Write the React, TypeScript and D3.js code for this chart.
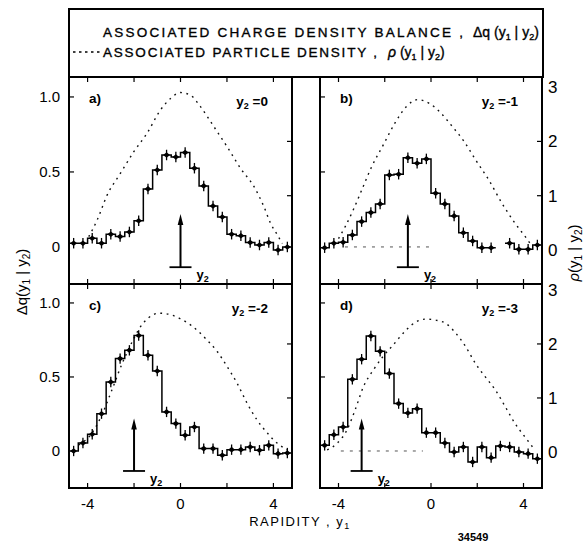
import React from "react";
import * as d3 from "d3";

const W = 588;
const H = 548;

// histogram bins: 24 bins of width 0.4 from -4.8 to 4.8
const BIN_LO = -4.8;
const BIN_W = 0.4;
const ERR = 0.035;

const dqA = [0.025, 0.025, 0.058, 0.025, 0.085, 0.069, 0.10, 0.175, 0.387, 0.513, 0.613, 0.60, 0.63, 0.525, 0.407, 0.273, 0.20, 0.085, 0.075, 0.03, 0.013, 0.03, -0.02, 0.0];
const dqB = [-0.005, 0.025, 0.031, 0.08, 0.169, 0.229, 0.287, 0.48, 0.485, 0.595, 0.558, 0.587, 0.358, 0.287, 0.207, 0.095, 0.04, -0.005, -0.005, null, 0.025, -0.016, -0.016, 0.013];
const dqC = [0.0, 0.054, 0.113, 0.252, 0.466, 0.624, 0.68, 0.78, 0.647, 0.54, 0.264, 0.185, 0.106, 0.162, 0.016, 0.016, -0.029, 0.009, 0.009, 0.027, 0.005, 0.038, -0.018, -0.014];
const dqD = [0.038, 0.11, 0.162, 0.484, 0.62, 0.777, 0.673, 0.523, 0.32, 0.257, 0.286, 0.124, 0.124, 0.054, -0.007, 0.027, -0.074, 0.027, -0.045, 0.034, 0.027, -0.007, -0.018, -0.052];

// associated particle density rho(y1|y2), read as (y1, rho) pairs
const rhoAx = [-3.95, -3.59, -3.16, -2.59, -2.01, -1.44, -0.86, -0.43, 0, 0.43, 0.86, 1.44, 2.01, 2.59, 3.16, 3.59, 3.88, 4.17, 4.38];
const rhoAy = [0.245, 0.55, 1.01, 1.41, 1.81, 2.15, 2.58, 2.79, 2.90, 2.85, 2.64, 2.27, 1.90, 1.50, 1.17, 0.80, 0.49, 0.28, 0.12];
const rhoBx = [-4.0, -3.71, -3.36, -3.0, -2.57, -2.07, -1.57, -1.07, -0.57, -0.07, 0.43, 0.93, 1.43, 1.93, 2.5, 3.07, 3.64, 4.07, 4.29];
const rhoBy = [0.21, 0.43, 0.74, 1.10, 1.53, 1.93, 2.33, 2.64, 2.77, 2.70, 2.52, 2.27, 2.0, 1.66, 1.29, 0.86, 0.49, 0.25, 0.12];
const rhoCx = [-4.38, -3.81, -3.38, -2.95, -2.51, -2.08, -1.72, -1.36, -0.93, -0.50, -0.07, 0.5, 1.08, 1.58, 2.01, 2.44, 2.87, 3.30, 3.74, 4.17, 4.6];
const rhoCy = [0.13, 0.35, 0.69, 1.15, 1.64, 2.04, 2.32, 2.49, 2.57, 2.55, 2.48, 2.33, 2.1, 1.86, 1.58, 1.27, 0.90, 0.59, 0.35, 0.16, 0.04];
const rhoDx = [-4.49, -4.06, -3.63, -3.28, -2.92, -2.49, -2.07, -1.64, -1.07, -0.64, -0.21, 0.21, 0.64, 1.07, 1.50, 1.92, 2.35, 2.78, 3.21, 3.63, 4.06, 4.49];
const rhoDy = [0.04, 0.16, 0.41, 0.78, 1.21, 1.52, 1.77, 1.98, 2.26, 2.41, 2.46, 2.44, 2.38, 2.20, 1.95, 1.64, 1.39, 1.15, 0.84, 0.53, 0.28, 0.04];

const y2Values = [0, -1, -2, -3];
const panelLetters = ["a)", "b)", "c)", "d)"];
const xTicks = [-4, -2, 0, 2, 4];
const xTickLabels = [-4, 0, 4];
const dqTicks = [0, 0.5, 1.0];
const dqTickLabels = ["0", "0.5", "1.0"];
const rhoTicks = [0, 1, 2, 3];

const FONT = "'Liberation Sans', Arial, sans-serif";

const cols = [
  { x0: 69, x1: 292 },
  { x0: 320, x1: 542 },
];
const rows = [
  { y0: 77, y1: 284, dq: [-0.247, 1.133], rho: [-0.626, 3.186] },
  { y0: 284, y1: 488, dq: [-0.25, 1.128], rho: [-0.667, 3.11] },
];

const panels = [
  { i: 0, col: 0, row: 0, dq: dqA, rx: rhoAx, ry: rhoAy, zeroSeg: null },
  { i: 1, col: 1, row: 0, dq: dqB, rx: rhoBx, ry: rhoBy, zeroSeg: [-3.72, 0.1] },
  { i: 2, col: 0, row: 1, dq: dqC, rx: rhoCx, ry: rhoCy, zeroSeg: null },
  { i: 3, col: 1, row: 1, dq: dqD, rx: rhoDx, ry: rhoDy, zeroSeg: [-3.9, -0.35] },
];

function Panel({ p }: { p: any }) {
  const c = cols[p.col];
  const r = rows[p.row];
  const x = d3.scaleLinear().domain([-4.8, 4.8]).range([c.x0, c.x1]);
  const y = d3.scaleLinear().domain(r.dq).range([r.y1, r.y0]);
  const ry = d3.scaleLinear().domain(r.rho).range([r.y1, r.y0]);
  const y2 = y2Values[p.i];
  const clipId = `clip${p.i}`;

  let hist = "";
  let open = false;
  (p.dq as (number | null)[]).forEach((v, i) => {
    if (v == null) {
      open = false;
      return;
    }
    const xa = x(BIN_LO + i * BIN_W);
    const xb = x(BIN_LO + (i + 1) * BIN_W);
    const yy = y(v);
    hist += (open ? "L" : "M") + xa + "," + yy + "L" + xb + "," + yy;
    open = true;
  });

  const rhoPts: [number, number][] = p.rx.map((v: number, k: number) => [v, p.ry[k]]);
  const rhoLine = d3
    .line<[number, number]>()
    .x((d) => x(d[0]))
    .y((d) => ry(d[1]))
    .curve(d3.curveMonotoneX)(rhoPts) as string;

  const ax = x(y2);
  const barY = y(-0.135);
  const tipY = y(0.22);

  return (
    <g>
      <defs>
        <clipPath id={clipId}>
          <rect x={c.x0} y={r.y0} width={c.x1 - c.x0} height={r.y1 - r.y0} />
        </clipPath>
      </defs>
      <g clipPath={`url(#${clipId})`}>
        {p.zeroSeg && (
          <line
            x1={x(p.zeroSeg[0])}
            x2={x(p.zeroSeg[1])}
            y1={y(0)}
            y2={y(0)}
            stroke="#555"
            strokeWidth={1}
            strokeDasharray="3 6"
          />
        )}
        <path d={rhoLine} fill="none" stroke="#111" strokeWidth={1.4} strokeDasharray="1.8 4.6" />
        <path d={hist} fill="none" stroke="#000" strokeWidth={1.5} />
        {(p.dq as (number | null)[]).map((v, i) =>
          v == null ? null : (
            <g key={i}>
              <line
                x1={x(BIN_LO + (i + 0.5) * BIN_W)}
                x2={x(BIN_LO + (i + 0.5) * BIN_W)}
                y1={y(v - ERR)}
                y2={y(v + ERR)}
                stroke="#000"
                strokeWidth={1.3}
              />
              <path
                d={`M${x(BIN_LO + (i + 0.5) * BIN_W) - 3.4},${y(v)}L${x(BIN_LO + (i + 0.5) * BIN_W)},${y(v) - 2.8}L${x(BIN_LO + (i + 0.5) * BIN_W) + 3.4},${y(v)}L${x(BIN_LO + (i + 0.5) * BIN_W)},${y(v) + 2.8}Z`}
                fill="#000"
              />
            </g>
          )
        )}
        {/* y2 arrow */}
        <line x1={ax - 11} x2={ax + 11} y1={barY} y2={barY} stroke="#000" strokeWidth={1.8} />
        <line x1={ax} x2={ax} y1={barY} y2={tipY + 6} stroke="#000" strokeWidth={2} />
        <path d={`M${ax - 2.8},${tipY + 11}L${ax},${tipY}L${ax + 2.8},${tipY + 11}Z`} fill="#000" />
      </g>
      <text x={ax + 16} y={barY + 12} fontSize={13} fontWeight="bold" fontFamily={FONT}>
        y<tspan fontSize={9} dy={3}>2</tspan>
      </text>
      {/* frame */}
      <rect x={c.x0} y={r.y0} width={c.x1 - c.x0} height={r.y1 - r.y0} fill="none" stroke="#000" strokeWidth={2} />
      {xTicks.map((t) => (
        <g key={t}>
          <line x1={x(t)} x2={x(t)} y1={r.y0} y2={r.y0 + 5} stroke="#000" strokeWidth={1.2} />
          <line x1={x(t)} x2={x(t)} y1={r.y1} y2={r.y1 - 5} stroke="#000" strokeWidth={1.2} />
        </g>
      ))}
      {[0.5, 1.0].map((t) => (
        <line key={t} x1={c.x0} x2={c.x0 + 5} y1={y(t)} y2={y(t)} stroke="#000" strokeWidth={1.2} />
      ))}
      {[1, 2].map((t) => (
        <line key={t} x1={c.x1} x2={c.x1 - 5} y1={ry(t)} y2={ry(t)} stroke="#000" strokeWidth={1.2} />
      ))}
      {/* panel letter */}
      <text x={c.x0 + 20} y={r.y0 + 26} fontSize={13.5} fontWeight="bold" fontFamily={FONT}>
        {panelLetters[p.i]}
      </text>
      {/* y2 value */}
      <text x={c.x1 - 24} y={r.y0 + 29} fontSize={13.5} fontWeight="bold" fontFamily={FONT} textAnchor="end">
        y<tspan fontSize={9} dy={3}>2</tspan>
        <tspan dy={-3}>{" =" + (y2 === 0 ? "0" : String(y2))}</tspan>
      </text>
      {/* axis labels */}
      {p.col === 0 &&
        dqTicks.map((t, k) => (
          <text
            key={t}
            x={c.x0 - 9}
            y={y(t) + 5.5}
            fontSize={15}
            fontFamily={FONT}
            textAnchor="end"
          >
            {dqTickLabels[k]}
          </text>
        ))}
      {p.col === 1 &&
        rhoTicks.map((t) => (
          <text key={t} x={c.x1 + 6} y={ry(t) + 6} fontSize={17} fontFamily={FONT}>
            {t}
          </text>
        ))}
      {p.row === 1 &&
        xTickLabels.map((t) => (
          <text key={t} x={x(t)} y={509} fontSize={15} fontFamily={FONT} textAnchor="middle">
            {t < 0 ? "-" + Math.abs(t) : String(t)}
          </text>
        ))}
    </g>
  );
}

export default function App() {
  const legendText = { fontFamily: FONT, stroke: "#000", strokeWidth: 0.35 };
  return (
    <svg
      width={W}
      height={H}
      viewBox={`0 0 ${W} ${H}`}
      style={{ position: "absolute", left: 0, top: 0, background: "#fff" }}
    >
      <rect x={0} y={0} width={W} height={H} fill="#fff" />
      {/* legend box */}
      <rect x={69} y={9} width={474} height={68} fill="none" stroke="#000" strokeWidth={2} />
      <text x={103} y={37} fontSize={13.5} {...legendText} textLength={360} lengthAdjust="spacing">
        ASSOCIATED CHARGE DENSITY BALANCE ,
      </text>
      <text x={473} y={37} fontSize={14} {...legendText}>
        Δq (y<tspan fontSize={9} dy={3}>1</tspan>
        <tspan dy={-3}> | y</tspan>
        <tspan fontSize={9} dy={3}>2</tspan>
        <tspan dy={-3}>)</tspan>
      </text>
      <line x1={73} x2={101} y1={52} y2={52} stroke="#000" strokeWidth={1.5} strokeDasharray="2.5 3.5" />
      <text x={103} y={57} fontSize={13.5} {...legendText} textLength={274} lengthAdjust="spacing">
        ASSOCIATED PARTICLE DENSITY ,
      </text>
      <text x={388} y={57} fontSize={14} {...legendText}>
        <tspan fontStyle="italic">ρ</tspan> (y<tspan fontSize={9} dy={3}>1</tspan>
        <tspan dy={-3}> | y</tspan>
        <tspan fontSize={9} dy={3}>2</tspan>
        <tspan dy={-3}>)</tspan>
      </text>

      {panels.map((p) => (
        <Panel key={p.i} p={p} />
      ))}

      {/* axis titles */}
      <text transform="translate(27,282) rotate(-90)" fontSize={15} fontFamily={FONT} textAnchor="middle">
        Δq(y<tspan fontSize={10} dy={3}>1</tspan>
        <tspan dy={-3}> | y</tspan>
        <tspan fontSize={10} dy={3}>2</tspan>
        <tspan dy={-3}>)</tspan>
      </text>
      <text transform="translate(579,253) rotate(-90)" fontSize={15} fontFamily={FONT} textAnchor="middle">
        <tspan fontStyle="italic">ρ</tspan>(y<tspan fontSize={10} dy={3}>1</tspan>
        <tspan dy={-3}> | y</tspan>
        <tspan fontSize={10} dy={3}>2</tspan>
        <tspan dy={-3}>)</tspan>
      </text>
      <text x={300} y={526} fontSize={13} fontFamily={FONT} textAnchor="middle" letterSpacing={1.5}>
        RAPIDITY , y<tspan fontSize={9} dy={3}>1</tspan>
      </text>
      <text x={473} y={541} fontSize={11} fontWeight="bold" fontFamily={FONT} textAnchor="middle">
        34549
      </text>
    </svg>
  );
}
